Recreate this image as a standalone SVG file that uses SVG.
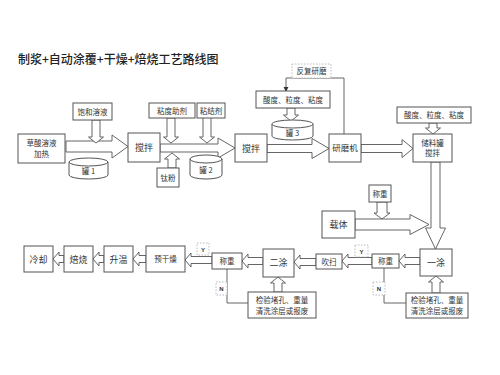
<svg xmlns="http://www.w3.org/2000/svg" width="500" height="375" viewBox="0 0 500 375">
<defs>
<style>
.bx{fill:#fff;stroke:#555;stroke-width:1}
.ar{fill:#fff;stroke:#555;stroke-width:0.9;stroke-linejoin:miter}
.ln{fill:none;stroke:#555;stroke-width:0.9}
.ds{fill:#fff;stroke:#aaa;stroke-width:0.8;stroke-dasharray:1.5,1.5}
.t{font-family:"Noto Sans CJK SC","Noto Sans",sans-serif;font-size:7.5px;fill:#333;text-anchor:middle}
.tl{font-family:"Noto Sans CJK SC","Noto Sans",sans-serif;font-size:9px;fill:#333;text-anchor:middle}
.yn{font-family:"Liberation Sans",sans-serif;font-size:6px;font-weight:bold;fill:#333;text-anchor:middle}
.title{font-family:"Noto Sans CJK SC","Liberation Sans",sans-serif;font-size:12px;font-weight:500;fill:#222}
</style>
<marker id="ah" viewBox="0 0 6 6" refX="5" refY="3" markerWidth="6" markerHeight="6" orient="auto"><path d="M0,0 L6,3 L0,6 Z" fill="#333"/></marker>
</defs>
<rect width="500" height="375" fill="#fff"/>
<text class="title" x="18" y="64">制浆+自动涂覆+干燥+焙烧工艺路线图</text>

<g id="connectors">
<polygon class="ar" points="66,141 112,141 112,135 128,146.5 112,158 112,152 66,152"/>
<polygon class="ar" points="92,120 92,137 88.5,137 96,143 103.5,137 100,137 100,120"/>
<polygon class="ar" points="160,144 218,144 218,138 235,148 218,158 218,152 160,152"/>
<polygon class="ar" points="167,118 167,137 163.5,137 171,143 178.5,137 175,137 175,118"/>
<polygon class="ar" points="203,117 203,137 199.5,137 207,143 214.5,137 211,137 211,117"/>
<polygon class="ar" points="168,168 168,159 164.5,159 172,153 179.5,159 176,159 176,168"/>
<polygon class="ar" points="287,108 287,115 283.5,115 291,121 298.5,115 295,115 295,108"/>
<polygon class="ar" points="267,144.5 312,144.5 312,138.5 329,148.5 312,158.5 312,152.5 267,152.5"/>
<polygon class="ar" points="361,144.5 402,144.5 402,139.5 413,148.5 402,157.5 402,152.5 361,152.5"/>
<polygon class="ar" points="429,123 429,128 425.5,128 433,134 440.5,128 437,128 437,123"/>
<polygon class="ar" points="431,162 431,228 425.5,228 435.5,249 445.5,228 440,228 440,162"/>
<polygon class="ar" points="377,202 377,213 374,213 382,219 390,213 387,213 387,202"/>
<polygon class="ar" points="355,219 410,219 410,214.5 429,224.5 410,234.5 410,230 355,230"/>
<polygon class="ar" points="420,257.5 405,257.5 405,254 399,261 405,268 405,264.5 420,264.5"/>
<polygon class="ar" points="372,257.5 348,257.5 348,254 342,261 348,268 348,264.5 372,264.5"/>
<polygon class="ar" points="316,258.5 300,258.5 300,255 294,262 300,269 300,265.5 316,265.5"/>
<polygon class="ar" points="263,257.5 248,257.5 248,254 242,261 248,268 248,264.5 263,264.5"/>
<polygon class="ar" points="212,256.5 191,256.5 191,253 185,260 191,267 191,263.5 212,263.5"/>
<polygon class="ar" points="146,255.5 139,255.5 139,252 133,259 139,266 139,262.5 146,262.5"/>
<polygon class="ar" points="104,255.5 99,255.5 99,252 93,259 99,266 99,262.5 104,262.5"/>
<polygon class="ar" points="64,255.5 59,255.5 59,252 53,259 59,266 59,262.5 64,262.5"/>
<polygon class="ar" points="432,293 432,282 428.5,282 436,276 443.5,282 440,282 440,293"/>
<polygon class="ar" points="274,292 274,283 270.5,283 278,277 285.5,283 282,283 282,292"/>
<polyline class="ln" points="344,134 344,78 286,78 286,91" marker-end="url(#ah)"/>
<polyline class="ln" points="384,268 384,303 406,303"/>
<polyline class="ln" points="227,268 227,303 248,303"/>
</g>

<g id="n-caosuan"><rect class="bx" x="18" y="134" width="47" height="29"/><text class="t" x="41.5" y="146">草酸溶液</text><text class="t" x="41.5" y="157">加热</text></g>
<g id="n-guan1"><path class="bx" d="M69,162 V175 A19.5,4 0 0 0 108,175 V162"/><ellipse class="bx" cx="88.5" cy="162" rx="19.5" ry="4"/><text class="t" x="88.5" y="174">罐 1</text></g>
<g id="n-baohe"><rect class="bx" x="73" y="103" width="39" height="17"/><text class="t" x="92.5" y="114.5">饱和溶液</text></g>
<g id="n-jiaoban1"><rect class="bx" x="128" y="133" width="32" height="29"/><text class="tl" x="144" y="151">搅拌</text></g>
<g id="n-zhiduzhuji"><rect class="bx" x="149" y="103" width="46" height="15"/><text class="t" x="172" y="113.5">粘度助剂</text></g>
<g id="n-zhijieji"><rect class="bx" x="197" y="103" width="28" height="15"/><text class="t" x="211" y="113.5">粘结剂</text></g>
<g id="n-taifen"><rect class="bx" x="157" y="168" width="22" height="19"/><text class="t" x="168" y="180.5">钛粉</text></g>
<g id="n-guan2"><path class="bx" d="M190,159 V175 A16,4 0 0 0 222,175 V159"/><ellipse class="bx" cx="206" cy="159" rx="16" ry="4"/><text class="t" x="206" y="173">罐 2</text></g>
<g id="n-jiaoban2"><rect class="bx" x="235" y="134" width="32" height="28"/><text class="tl" x="251" y="151.5">搅拌</text></g>
<g id="n-suandu1"><rect class="bx" x="256" y="91" width="74" height="17"/><text class="t" x="293" y="102.5">酸度、粒度、粘度</text></g>
<g id="n-fanfu"><rect class="ds" x="292" y="64" width="39" height="14"/><text class="t" x="311.5" y="74">反复研磨</text></g>
<g id="n-guan3"><path class="bx" d="M272,124 V136 A20.5,4 0 0 0 313,136 V124"/><ellipse class="bx" cx="292.5" cy="124" rx="20.5" ry="4"/><text class="t" x="292.5" y="136">罐 3</text></g>
<g id="n-yanmo"><rect class="bx" x="329" y="134" width="32" height="28"/><text class="t" x="345" y="151" style="font-size:8.5px">研磨机</text></g>
<g id="n-suandu2"><rect class="bx" x="397" y="107" width="74" height="16"/><text class="t" x="434" y="118">酸度、粒度、粘度</text></g>
<g id="n-chuliao"><rect class="bx" x="413" y="134" width="39" height="28"/><text class="t" x="432.5" y="145.5">储料罐</text><text class="t" x="432.5" y="156">搅拌</text></g>
<g id="n-chengzhong0"><rect class="bx" x="369" y="185" width="22" height="17"/><text class="t" x="380" y="196.5">称重</text></g>
<g id="n-zaiti"><rect class="bx" x="322" y="211" width="33" height="27"/><text class="tl" x="338.5" y="228">载体</text></g>
<g id="n-yitu"><rect class="bx" x="420" y="249" width="32" height="27"/><text class="tl" x="436" y="266">一涂</text></g>
<g id="n-chengzhong2"><rect class="bx" x="372" y="254" width="27" height="14"/><text class="t" x="385.5" y="263.5">称重</text></g>
<g id="n-y2"><rect class="ds" x="355" y="245" width="13" height="12"/><text class="yn" x="361.5" y="253.5">Y</text></g>
<g id="n-n2"><rect class="ds" x="373" y="282" width="12" height="13"/><text class="yn" x="379" y="291">N</text></g>
<g id="n-jianyan2"><rect class="bx" x="406" y="293" width="62" height="25"/><text class="t" x="437" y="303">检验堵孔、重量</text><text class="t" x="437" y="314">清洗涂层或报废</text></g>
<g id="n-chuisao"><rect class="bx" x="316" y="254" width="26" height="15"/><text class="t" x="329" y="264.5">吹扫</text></g>
<g id="n-ertu"><rect class="bx" x="263" y="249" width="31" height="28"/><text class="tl" x="278.5" y="266">二涂</text></g>
<g id="n-jianyan1"><rect class="bx" x="248" y="292" width="68" height="26"/><text class="t" x="282" y="302.5">检验堵孔、重量</text><text class="t" x="282" y="314">清洗涂层或报废</text></g>
<g id="n-chengzhong1"><rect class="bx" x="212" y="253" width="30" height="16"/><text class="t" x="227" y="263.5">称重</text></g>
<g id="n-y1"><rect class="ds" x="197" y="243" width="12" height="12"/><text class="yn" x="203" y="251.5">Y</text></g>
<g id="n-n1"><rect class="ds" x="216" y="282" width="11" height="13"/><text class="yn" x="221.5" y="291">N</text></g>
<g id="n-yuganzao"><rect class="bx" x="146" y="246" width="39" height="26"/><text class="t" x="165.5" y="262">预干燥</text></g>
<g id="n-shengwen"><rect class="bx" x="104" y="246" width="29" height="26"/><text class="tl" x="118.5" y="262.5">升温</text></g>
<g id="n-beishao"><rect class="bx" x="64" y="246" width="29" height="26"/><text class="tl" x="78.5" y="262.5">焙烧</text></g>
<g id="n-lengque"><rect class="bx" x="24" y="246" width="29" height="26"/><text class="tl" x="38.5" y="262.5">冷却</text></g>
</svg>
